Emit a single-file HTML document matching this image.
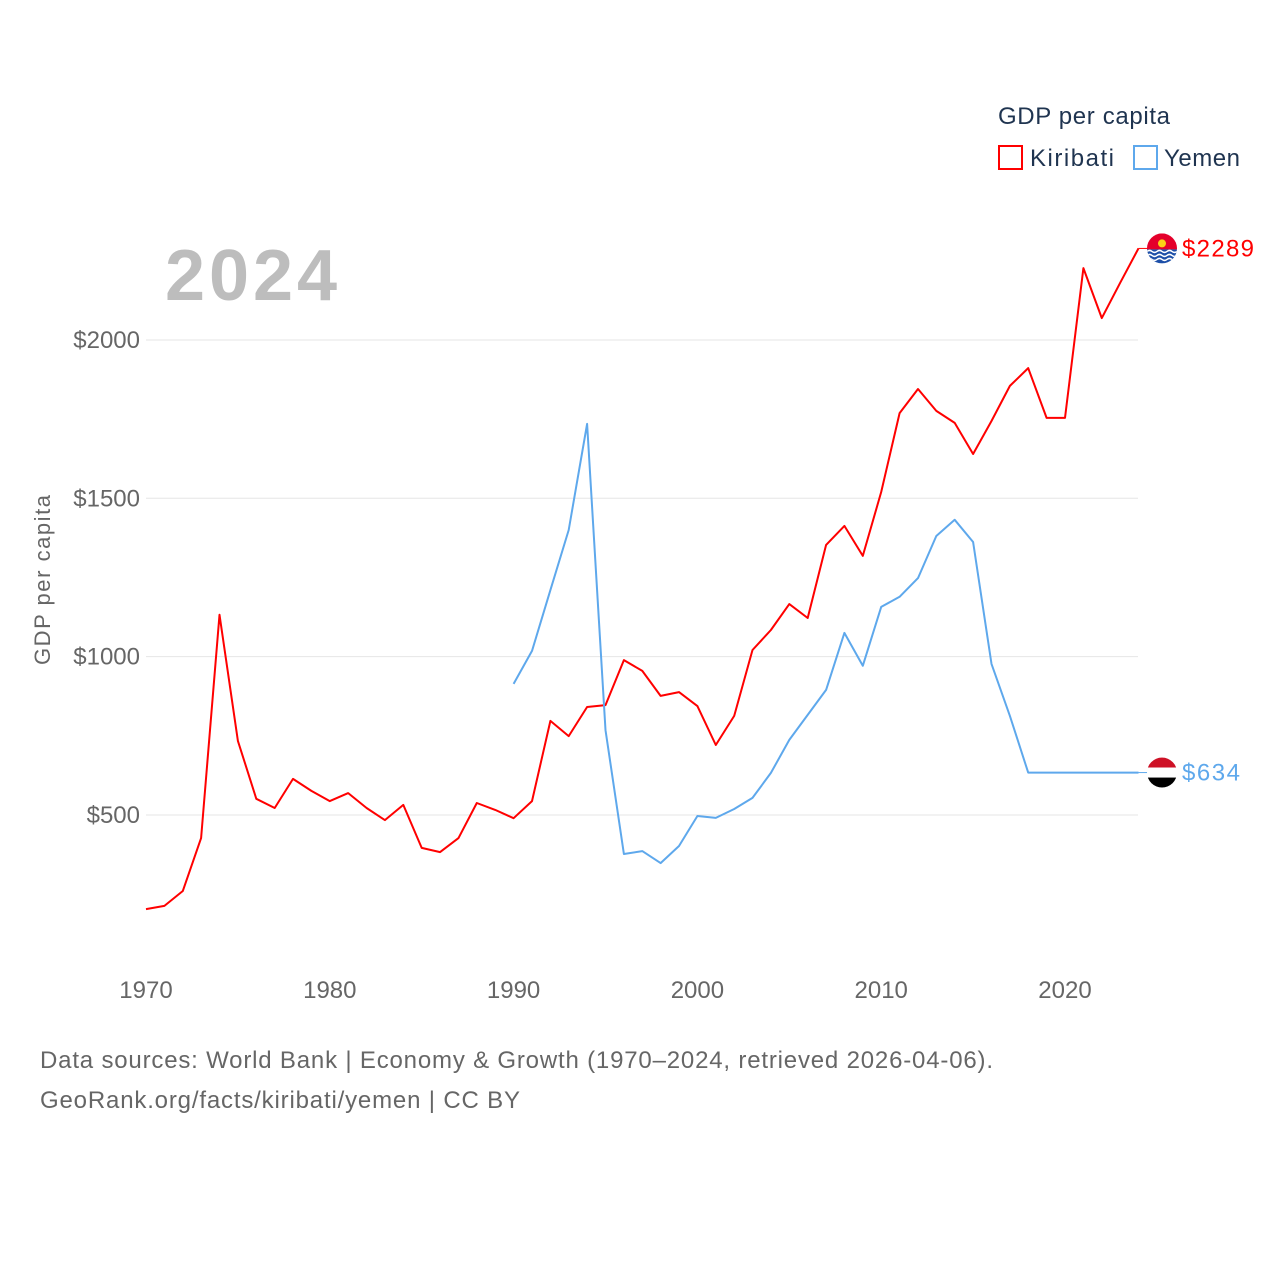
<!DOCTYPE html>
<html><head><meta charset="utf-8"><style>
html,body{margin:0;padding:0;background:#fff;}
svg{display:block;font-family:"Liberation Sans",sans-serif;}
</style></head><body>
<svg id="chart" width="1280" height="1280" viewBox="0 0 1280 1280">
<text x="998" y="124" font-size="24" fill="#1f3450" textLength="172">GDP per capita</text>
<rect x="999" y="146" width="23" height="23" fill="none" stroke="#f00" stroke-width="2"/>
<text x="1030" y="166" font-size="24" fill="#1f3450" textLength="84">Kiribati</text>
<rect x="1134" y="146" width="23" height="23" fill="none" stroke="#5ea8ec" stroke-width="2"/>
<text x="1164" y="166" font-size="24" fill="#1f3450" textLength="76">Yemen</text>
<text x="165" y="300" font-size="72" font-weight="bold" fill="#bdbdbd" textLength="172">2024</text>
<text transform="translate(50,580) rotate(-90)" text-anchor="middle" font-size="22" fill="#666" textLength="170">GDP per capita</text>
<g id="grid"></g><g id="xt"></g><g id="lines"></g>
<text x="40" y="1068" font-size="24" fill="#666" textLength="953">Data sources: World Bank | Economy &amp; Growth (1970–2024, retrieved 2026-04-06).</text>
<text x="40" y="1108" font-size="24" fill="#666" textLength="480">GeoRank.org/facts/kiribati/yemen | CC BY</text>
</svg>
<script>
const yTicks=[500,1000,1500,2000];
const xTicks=[1970,1980,1990,2000,2010,2020];
const kiribatiYears=[];for(let y=1970;y<=2024;y++)kiribatiYears.push(y);
const kiribati=[203,213,260,427,1132,734,551,522,614,576,544,569,522,484,532,396,383,427,538,516,490,544,797,749,841,847,989,955,876,888,844,721,813,1021,1084,1166,1122,1353,1413,1318,1520,1769,1845,1776,1738,1640,1744,1855,1911,1754,1754,2227,2069,2180,2289];
const yemenYears=[];for(let y=1990;y<=2024;y++)yemenYears.push(y);
const yemen=[914,1018,1210,1400,1735,768,377,386,348,402,497,491,519,554,633,737,816,895,1075,971,1157,1189,1248,1381,1432,1362,977,813,634,634,634,634,634,634,634];
const X=y=>146+(y-1970)*18.38;
const Y=v=>815-(v-500)*0.3167;
const NS="http://www.w3.org/2000/svg";
function mk(t,a,p){const e=document.createElementNS(NS,t);for(const k in a)e.setAttribute(k,a[k]);p.appendChild(e);return e;}
const grid=document.getElementById('grid'),xt=document.getElementById('xt'),lines=document.getElementById('lines');
yTicks.forEach(v=>{
 const l=mk('line',{x1:146,x2:1138,y1:Y(v),y2:Y(v),stroke:'#e6e6e6','stroke-width':1},grid);
 
 
 const t=mk('text',{x:140,y:Y(v)+8,'text-anchor':'end','font-size':24,fill:'#666'},grid);
 t.textContent='$'+v;
 
 
});
xTicks.forEach(v=>{
 const t=mk('text',{x:X(v),y:998,'text-anchor':'middle','font-size':24,fill:'#666'},xt);
 t.textContent=v;
 
 
});
function series(years,vals,color,name){
 const d=vals.map((v,i)=>(i?'L':'M')+X(years[i]).toFixed(1)+','+Y(v).toFixed(1)).join('');
 const p=mk('path',{d:d,fill:'none',stroke:color,'stroke-width':2,'stroke-linejoin':'round'},lines);
 
 
 const lv=vals[vals.length-1],ly=Y(lv),lx=X(years[years.length-1]);
 const c=mk('line',{x1:lx,x2:lx+10,y1:ly,y2:ly,stroke:color,'stroke-width':1},lines);
 
 
 return {ly:ly};
}
const k=series(kiribatiYears,kiribati,'#f00','kiribati');
const ye=series(yemenYears,yemen,'#5ea8ec','yemen');
let g=mk('g',{},lines);


const kc=k.ly;
mk('clipPath',{id:'ck'},g).appendChild(document.createElementNS(NS,'circle'));
const cc=g.querySelector('#ck circle');cc.setAttribute('cx',1162);cc.setAttribute('cy',kc);cc.setAttribute('r',15);
const gg=mk('g',{'clip-path':'url(#ck)'},g);
mk('rect',{x:1147,y:kc-15,width:30,height:16,fill:'#e4002b'},gg);
mk('rect',{x:1147,y:kc+1,width:30,height:14,fill:'#1d4fa8'},gg);
[3,7,11].forEach(o=>mk('path',{d:`M1147,${kc+o} q2.5,-2 5,0 t5,0 t5,0 t5,0 t5,0 t5,0`,stroke:'#fff','stroke-width':1.5,fill:'none'},gg));
mk('circle',{cx:1162,cy:kc-5,r:4,fill:'#fcd116'},gg);
const kt=mk('text',{x:1182,y:kc+8,'font-size':24,fill:'#f00',textLength:72},lines);
kt.textContent='$'+kiribati[kiribati.length-1];


g=mk('g',{},lines);


const yc=ye.ly;
mk('clipPath',{id:'cy'},g).appendChild(document.createElementNS(NS,'circle'));
const cy=g.querySelector('#cy circle');cy.setAttribute('cx',1162);cy.setAttribute('cy',yc);cy.setAttribute('r',15);
const g2=mk('g',{'clip-path':'url(#cy)'},g);
mk('rect',{x:1147,y:yc-15,width:30,height:10,fill:'#ce1126'},g2);
mk('rect',{x:1147,y:yc-5,width:30,height:10,fill:'#fff'},g2);
mk('rect',{x:1147,y:yc+5,width:30,height:10,fill:'#000'},g2);
const yt=mk('text',{x:1182,y:yc+8,'font-size':24,fill:'#5ea8ec',textLength:58},lines);
yt.textContent='$'+yemen[yemen.length-1];


</script>
</body></html>
